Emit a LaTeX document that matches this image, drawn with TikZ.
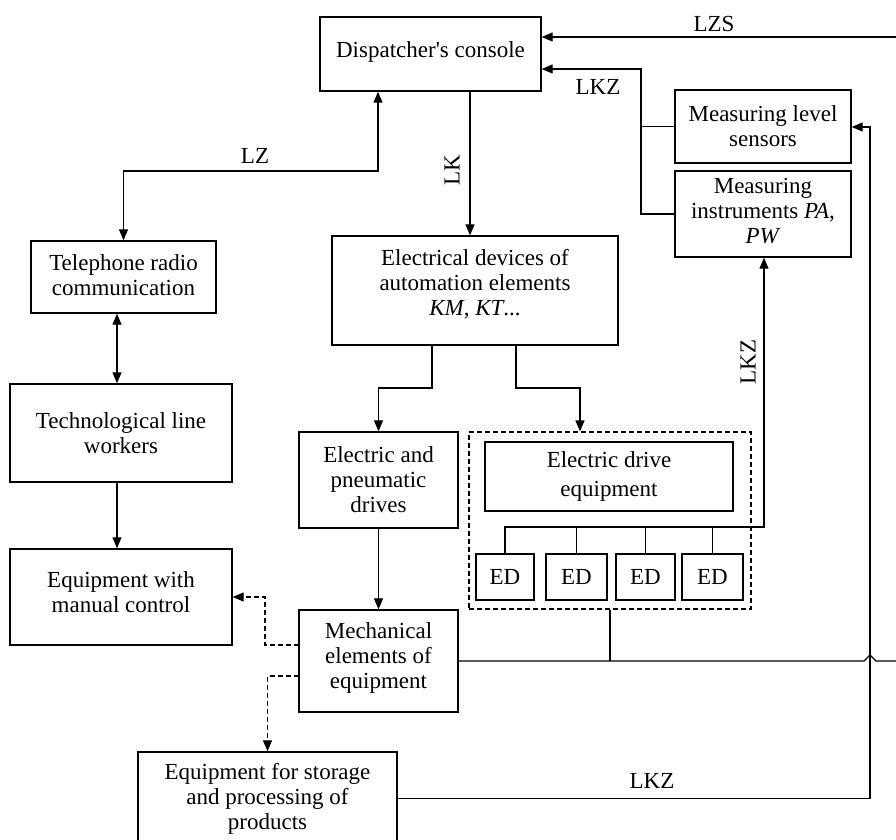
\documentclass[tikz,border=0pt]{standalone}
\usepackage{fontspec}
\setmainfont{Liberation Serif}
\usetikzlibrary{arrows.meta}
\begin{document}
\begin{tikzpicture}[x=1pt,y=-1pt,
  every node/.style={font=\fontsize{23}{25}\selectfont},
  blk/.style={draw, line width=1.4pt, align=center, inner sep=0pt},
  grp/.style={draw, line width=1.2pt, dash pattern=on 5pt off 3pt, inner sep=0pt},
  wire/.style={line width=1.3pt},
  arr/.style={wire, -{Triangle[length=11pt,width=9pt]}},
  darr/.style={wire, {Triangle[length=11pt,width=9pt]}-{Triangle[length=11pt,width=9pt]}},
  dasharr/.style={arr, dash pattern=on 5pt off 3pt},
  tag/.style={inner sep=1pt}]
\clip (0,0) rectangle (896,839);
\fill[white] (0,0) rectangle (896,839);

% blocks
\node[blk, minimum width=221pt, minimum height=74pt, text depth=9pt] (disp) at (430.5,54) {Dispatcher\textquotesingle s console};
\node[blk, minimum width=176pt, minimum height=73pt] (lvl) at (763,126.5) {Measuring level\\sensors};
\node[blk, minimum width=176pt, minimum height=86pt, text depth=6pt] (instr) at (763,214) {Measuring\\instruments \textit{PA},\\\textit{PW}};
\node[blk, minimum width=185pt, minimum height=72pt, text depth=4pt] (tel) at (123.5,277) {Telephone radio\\communication};
\node[blk, minimum width=286pt, minimum height=109pt, text depth=17pt] (elec) at (475,290.5) {Electrical devices of\\automation elements\\\textit{KM}, \textit{KT}...};
\node[blk, minimum width=222pt, minimum height=98pt] (tech) at (121,433) {Technological line\\workers};
\node[blk, minimum width=222pt, minimum height=96pt, text depth=10pt] (manual) at (121,597) {Equipment with\\manual control};
\node[blk, minimum width=159pt, minimum height=96pt] (edp) at (378.5,480) {Electric and\\pneumatic\\drives};
\node[blk, minimum width=159pt, minimum height=102pt, text depth=11pt] (mech) at (378.5,661) {Mechanical\\elements of\\equipment};
\node[blk, minimum width=259pt, minimum height=93pt] (store) at (267.5,798.5) {Equipment for storage\\and processing of\\products};

% electric drive group
\node[grp, minimum width=282pt, minimum height=177pt] (dashbox) at (610,520.5) {};
\node[blk, minimum width=248pt, minimum height=69pt] (ede) at (609,476.5) {Electric drive\\[4pt]equipment};
\node[blk, minimum width=58pt, minimum height=46pt] (ed1) at (505,577) {ED};
\node[blk, minimum width=61pt, minimum height=46pt] (ed2) at (576.5,577) {ED};
\node[blk, minimum width=59pt, minimum height=46pt] (ed3) at (645.5,577) {ED};
\node[blk, minimum width=61pt, minimum height=46pt] (ed4) at (712.5,577) {ED};

% routing points
\coordinate (lzsin) at (896,37);
\coordinate (lkzturn) at (641,69);
\coordinate (lzc) at (378,171);
\coordinate (lk) at (470,171);
\coordinate (tl) at (117,0);
\coordinate (e1) at (432,388);
\coordinate (e2) at (516,388);
\coordinate (e3) at (580,388);
\coordinate (m1) at (299,645);
\coordinate (d1) at (265,597);
\coordinate (m2) at (299,676);
\coordinate (edbus) at (764,527);
\coordinate (jl) at (864,661);
\coordinate (jt) at (870,655);
\coordinate (jr) at (876,661);
\coordinate (mout) at (896,661);
\coordinate (rtop) at (870,127);

% connectors
\draw[arr] (lzsin) -- (lzsin -| disp.east);
\draw[arr] (instr.west) -| (lkzturn) -- (lkzturn -| disp.east);
\draw[wire] (lvl.west) -- (lvl.west -| lkzturn);
\draw[darr] (tel.north) |- (lzc) -- (lzc |- disp.south);
\draw[arr] (lk |- disp.south) -- (lk |- elec.north);
\draw[darr] (tl |- tel.south) -- (tl |- tech.north);
\draw[arr] (tl |- tech.south) -- (tl |- manual.north);
\draw[arr] (e1 |- elec.south) -- (e1) -| (edp.north);
\draw[arr] (e2 |- elec.south) -- (e2) -- (e3) -- (e3 |- dashbox.north);
\draw[arr] (edp.south) -- (mech.north);
\draw[dasharr] (m1) -| (d1) -- (d1 -| manual.east);
\draw[dasharr] (m2) -| (store.north);
\draw[arr] (ed1.north) |- (edbus) -- (edbus |- instr.south);
\draw[wire] (ed2.north) -- (ed2.north |- edbus);
\draw[wire] (ed3.north) -- (ed3.north |- edbus);
\draw[wire] (ed4.north) -- (ed4.north |- edbus);
\draw[wire] (dashbox.south) -- (dashbox.south |- mech.east);
\draw[wire] (mech.east) -- (jl) -- (jt) -- (jr) -- (mout);
\draw[arr] (store.east) -| (rtop) -- (rtop -| lvl.east);

% line labels
\node[tag] (lzs) at (714,24) {LZS};
\node[tag] (lkz1) at (598,87) {LKZ};
\node[tag] (lz) at (255,156) {LZ};
\node[tag, rotate=90] (lkl) at (452,170) {LK};
\node[tag, rotate=90] (lkz2) at (748,362) {LKZ};
\node[tag] (lkz3) at (652,781) {LKZ};
\end{tikzpicture}
\end{document}
